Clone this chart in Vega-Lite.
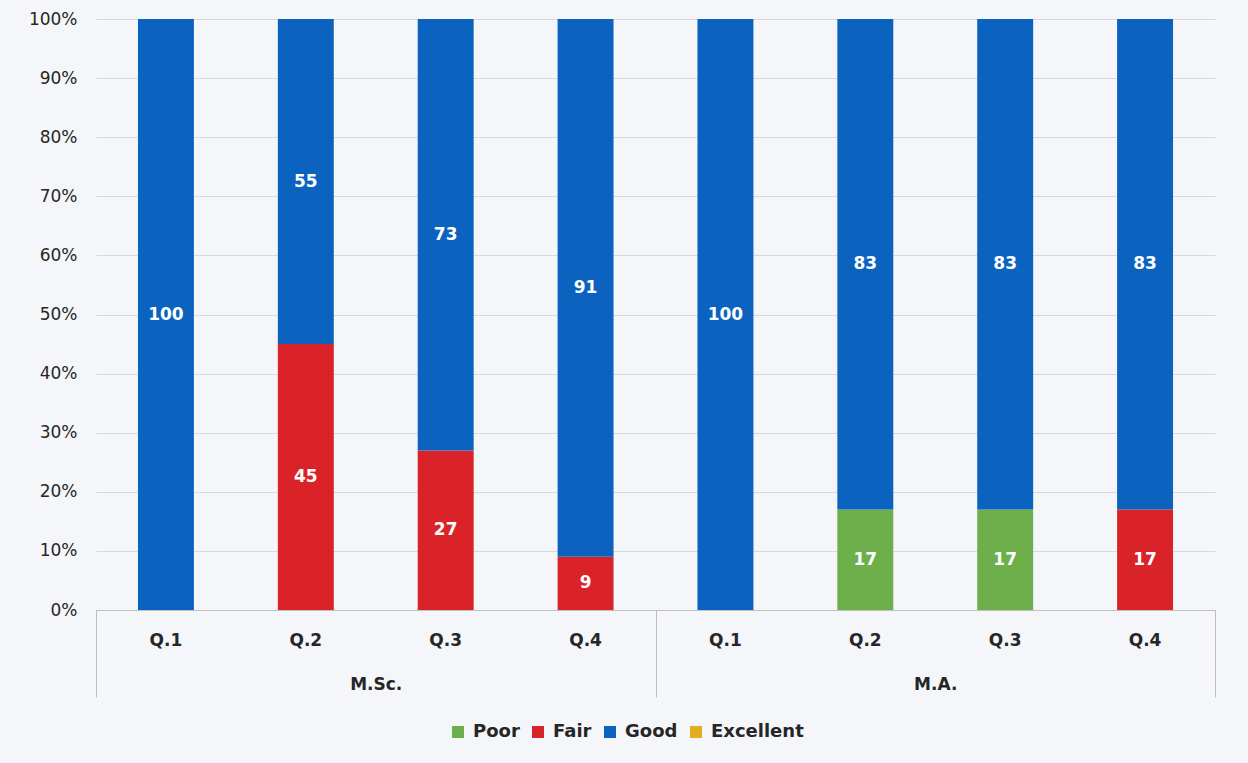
{
  "$schema": "https://vega.github.io/schema/vega-lite/v6.json",
  "width": 1119,
  "height": 591,
  "autosize": {"type": "none"},
  "padding": {"left": 96, "top": 19, "right": 33, "bottom": 153},
  "background": "#F4F6F9",
  "config": {
    "view": {"stroke": null},
    "font": "DejaVu Sans"
  },
  "data": {
    "values": [
      {"group": "M.Sc.", "item": "M.Sc. Q.1", "rating": "Good", "value": 100},
      {"group": "M.Sc.", "item": "M.Sc. Q.2", "rating": "Fair", "value": 45},
      {"group": "M.Sc.", "item": "M.Sc. Q.2", "rating": "Good", "value": 55},
      {"group": "M.Sc.", "item": "M.Sc. Q.3", "rating": "Fair", "value": 27},
      {"group": "M.Sc.", "item": "M.Sc. Q.3", "rating": "Good", "value": 73},
      {"group": "M.Sc.", "item": "M.Sc. Q.4", "rating": "Fair", "value": 9},
      {"group": "M.Sc.", "item": "M.Sc. Q.4", "rating": "Good", "value": 91},
      {"group": "M.A.", "item": "M.A. Q.1", "rating": "Good", "value": 100},
      {"group": "M.A.", "item": "M.A. Q.2", "rating": "Poor", "value": 17},
      {"group": "M.A.", "item": "M.A. Q.2", "rating": "Good", "value": 83},
      {"group": "M.A.", "item": "M.A. Q.3", "rating": "Poor", "value": 17},
      {"group": "M.A.", "item": "M.A. Q.3", "rating": "Good", "value": 83},
      {"group": "M.A.", "item": "M.A. Q.4", "rating": "Fair", "value": 17},
      {"group": "M.A.", "item": "M.A. Q.4", "rating": "Good", "value": 83}
    ]
  },
  "layer": [
    {
      "layer": [
        {
          "mark": {"type": "bar"},
          "encoding": {
            "x": {
              "field": "item", "type": "nominal", "sort": null,
              "scale": {"paddingInner": 0.6, "paddingOuter": 0.3},
              "axis": {
                "title": null, "labelAngle": 0, "ticks": false,
                "domain": true, "domainColor": "#BFBFBF",
                "labelExpr": "split(datum.label, ' ')[1]",
                "labelFontSize": 17, "labelFontWeight": "bold", "labelColor": "#262626",
                "labelPadding": 22
              }
            },
            "y": {
              "field": "value", "type": "quantitative", "stack": "normalize",
              "axis": {
                "title": null, "format": ".0%", "values": [0, 0.1, 0.2, 0.3, 0.4, 0.5, 0.6, 0.7, 0.8, 0.9, 1],
                "domain": false, "ticks": false, "grid": true, "gridColor": "#D9D9D9",
                "labelFontSize": 17, "labelColor": "#262626", "labelPadding": 19
              }
            },
            "color": {
              "field": "rating", "type": "nominal",
              "scale": {
                "domain": ["Poor", "Fair", "Good", "Excellent"],
                "range": ["#6DB04B", "#DA2229", "#0B63BF", "#E3AD22"]
              },
              "legend": {
                "title": null, "orient": "none", "direction": "horizontal",
                "legendX": 353, "legendY": 704,
                "symbolType": "square", "symbolSize": 144, "symbolStrokeWidth": 0,
                "labelFontSize": 18, "labelFontWeight": "bold", "labelColor": "#262626",
                "columnPadding": 9, "labelOffset": 6
              }
            },
            "order": {"field": "value", "sort": "ascending"}
          }
        },
        {
          "mark": {"type": "text", "fontSize": 17, "fontWeight": "bold"},
          "encoding": {
            "x": {"field": "item", "type": "nominal", "sort": null},
            "y": {"field": "value", "type": "quantitative", "stack": "normalize", "bandPosition": 0.5},
            "color": {
              "field": "rating", "type": "nominal",
              "scale": {"domain": ["Poor", "Fair", "Good", "Excellent"], "range": ["#FFFFFF", "#FFFFFF", "#FFFFFF", "#FFFFFF"]},
              "legend": null
            },
            "order": {"field": "value", "sort": "ascending"},
            "text": {"field": "value", "type": "quantitative"}
          }
        }
      ],
      "resolve": {"scale": {"color": "independent"}}
    },
    {
      "mark": {"type": "tick", "opacity": 0},
      "encoding": {
        "x": {
          "field": "group", "type": "nominal", "sort": ["M.Sc.", "M.A."],
          "scale": {"paddingInner": 0, "paddingOuter": 0},
          "axis": {
            "orient": "bottom", "title": null, "labelAngle": 0,
            "tickBand": "extent", "tickSize": 87, "tickColor": "#BFBFBF",
            "domain": true, "domainColor": "#BFBFBF",
            "labelFontSize": 17, "labelFontWeight": "bold", "labelColor": "#262626",
            "labelPadding": -21
          }
        }
      }
    }
  ],
  "resolve": {"scale": {"x": "independent"}}
}
